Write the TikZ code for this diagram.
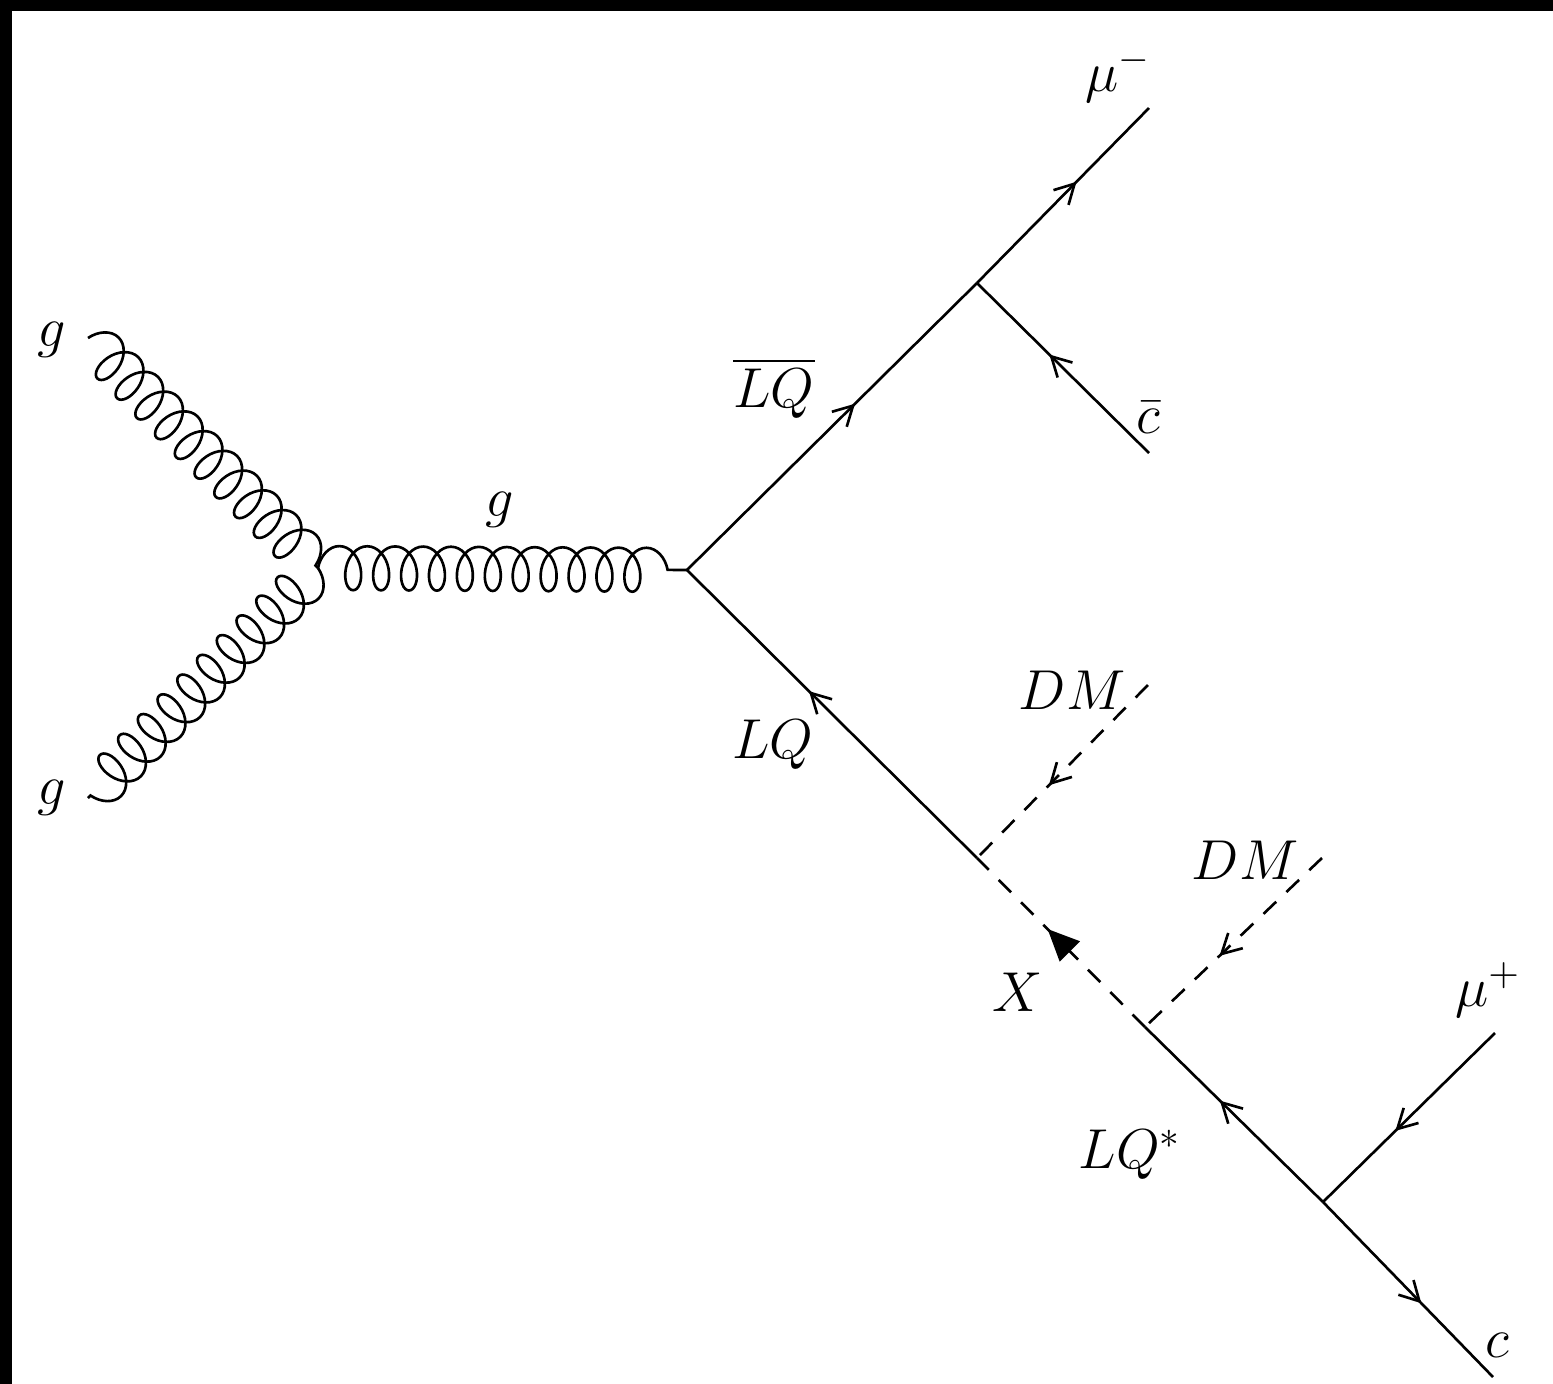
\RequirePackage{fix-cm}
\documentclass[tikz,border=0pt]{standalone}
\usepackage{amsmath}
\usepackage{tikz}
\usetikzlibrary{arrows.meta,decorations.pathmorphing,decorations.markings}
\definecolor{ink}{RGB}{0,0,0}
\definecolor{frame}{RGB}{0,0,0}
\tikzset{
  fermion/.style={draw=ink, line width=0.75pt, postaction={decorate},
                  decoration={markings, mark=at position 0.58 with
                  {\arrow{Straight Barb[length=5.5pt,width=6pt]}}}},
  scalar/.style={fermion, dash pattern=on 5pt off 4pt},
  chargedscalar/.style={draw=ink, line width=0.75pt, dash pattern=on 5pt off 4pt,
                  postaction={decorate},
                  decoration={markings, mark=at position 0.58 with
                  {\arrow{Triangle[length=9pt,width=8pt]}}}},
  gluon/.style={draw=ink, line width=0.75pt, decorate,
                decoration={coil, amplitude=0.22cm, segment length=0.279cm, aspect=0.65}},
  lbl/.style={font=\fontsize{16}{19}\selectfont, inner sep=0pt}
}
\begin{document}
\begin{tikzpicture}[x=0.01cm, y=-0.01cm]
  \useasboundingbox (0,0) rectangle (1553,1384);
  \fill[frame] (0,0) rectangle (1553,1384);
  \fill[white] (12,11) rectangle (1553,1384);
  \coordinate (ga) at (88,338);
  \coordinate (gb) at (88,798);
  \coordinate (v1) at (318,568);
  \coordinate (v2) at (687,570);
  \coordinate (v3) at (977,283);
  \coordinate (mum) at (1149,108);
  \coordinate (cbar) at (1149,453);
  \coordinate (v4) at (977,858);
  \coordinate (dma) at (1148,685);
  \coordinate (v5) at (1145,1027);
  \coordinate (dmb) at (1322,858);
  \coordinate (v6) at (1323,1202);
  \coordinate (mup) at (1495,1033);
  \coordinate (cq) at (1493,1377);
  \draw[gluon] (ga) -- (v1);
  \draw[gluon] (v1) -- (gb);
  \draw[gluon] (v1) -- (v2);
  \draw[fermion] (v2) -- (v3);
  \draw[fermion] (v3) -- (mum);
  \draw[fermion] (cbar) -- (v3);
  \draw[fermion] (v4) -- (v2);
  \draw[scalar] (dma) -- (v4);
  \draw[chargedscalar] (v5) -- (v4);
  \draw[scalar] (dmb) -- (v5);
  \draw[fermion] (v6) -- (v5);
  \draw[fermion] (mup) -- (v6);
  \draw[fermion] (v6) -- (cq);
  \node[lbl] (lga) at (52,340) {$g$};
  \node[lbl] (lgb) at (52,798) {$g$};
  \node[lbl] (lgc) at (500,510) {$g$};
  \node[lbl] (llqb) at (774,388) {$\overline{LQ}$};
  \node[lbl] (lmum) at (1118,75) {$\mu^-$};
  \node[lbl] (lcbar) at (1148,418) {$\bar{c}$};
  \node[lbl] (llq) at (773,745) {$LQ$};
  \node[lbl] (ldma) at (1072,690) {$DM$};
  \node[lbl] (ldmb) at (1245,860) {$DM$};
  \node[lbl] (lx) at (1018,992) {$X$};
  \node[lbl] (lmup) at (1488,990) {$\mu^+$};
  \node[lbl] (llqs) at (1130,1155) {$LQ^*$};
  \node[lbl] (lc) at (1497,1345) {$c$};
\end{tikzpicture}
\end{document}
